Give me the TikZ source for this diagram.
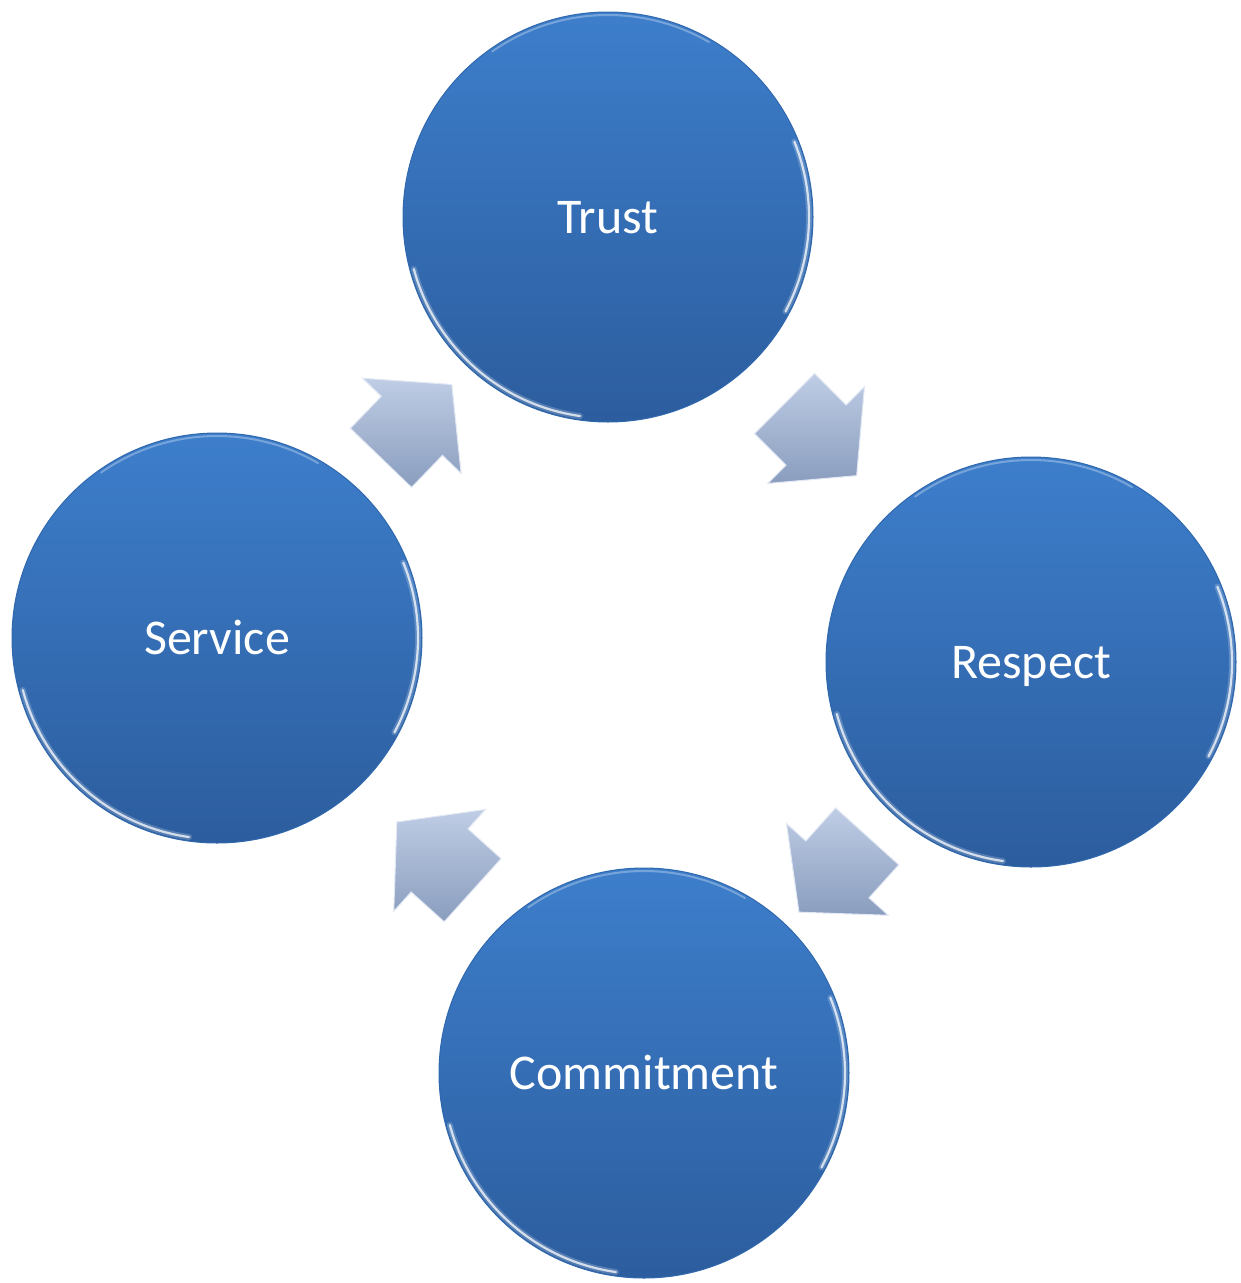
\documentclass[tikz,border=0pt]{standalone}
\usepackage{fontspec}
\setmainfont{Carlito}
\usetikzlibrary{shapes.arrows}
\definecolor{ctop}{HTML}{3D7ECB}
\definecolor{cbot}{HTML}{2C5D9E}
\definecolor{cedge}{HTML}{3068AE}
\definecolor{atop}{HTML}{BFCDE5}
\definecolor{abot}{HTML}{8A9DBE}
\begin{document}
\begin{tikzpicture}[x=1pt,y=-1pt,
  bubble/.style={circle, minimum size=410pt, inner sep=0pt,
    top color=ctop, bottom color=cbot, draw=cedge, line width=1pt,
    text=white, font=\fontsize{50}{60}\selectfont,
    text height=32pt, text depth=0pt},
  cyclearrow/.style={single arrow, minimum height=102pt,
    single arrow head extend=26pt, single arrow tip angle=100,
    inner xsep=0pt, inner ysep=42pt,
    top color=atop, bottom color=abot, draw=white!55!atop, line width=1pt},
  rim/.style={white, opacity=0.75, line width=2.2pt, line cap=round},
  softrim/.style={white, opacity=0.2, line width=6pt, line cap=round},
  faintrim/.style={white, opacity=0.3, line width=2pt, line cap=round}]

\useasboundingbox (0,0) rectangle (1241,1283);

% circles
\node[bubble] (trust)   at (608,217)  {Trust};
\node[bubble] (respect) at (1031,662) {Respect};
\node[bubble] (commit)  at (644,1073) {Commitment};
\node[bubble] (service) at (217,638)  {Service};

% rim highlights
\foreach \n in {trust,respect,commit,service}{
  \draw[softrim] ([shift={(195:201pt)}]\n.center) arc[start angle=195, end angle=262, radius=201pt];
  \draw[softrim] ([shift={(-28:201pt)}]\n.center) arc[start angle=-28, end angle=22, radius=201pt];
  \draw[rim] ([shift={(195:201pt)}]\n.center) arc[start angle=195, end angle=262, radius=201pt];
  \draw[rim] ([shift={(-28:201pt)}]\n.center) arc[start angle=-28, end angle=22, radius=201pt];
  \draw[faintrim] ([shift={(60:202pt)}]\n.center) arc[start angle=60, end angle=125, radius=202pt];
}

% arrows
\node[cyclearrow, rotate=-45]  (a1) at (808,427) {};
\node[cyclearrow, rotate=-132] (a2) at (845,861) {};
\node[cyclearrow, rotate=138]  (a3) at (448,868) {};
\node[cyclearrow, rotate=46]   (a4) at (404,434) {};
\end{tikzpicture}
\end{document}
